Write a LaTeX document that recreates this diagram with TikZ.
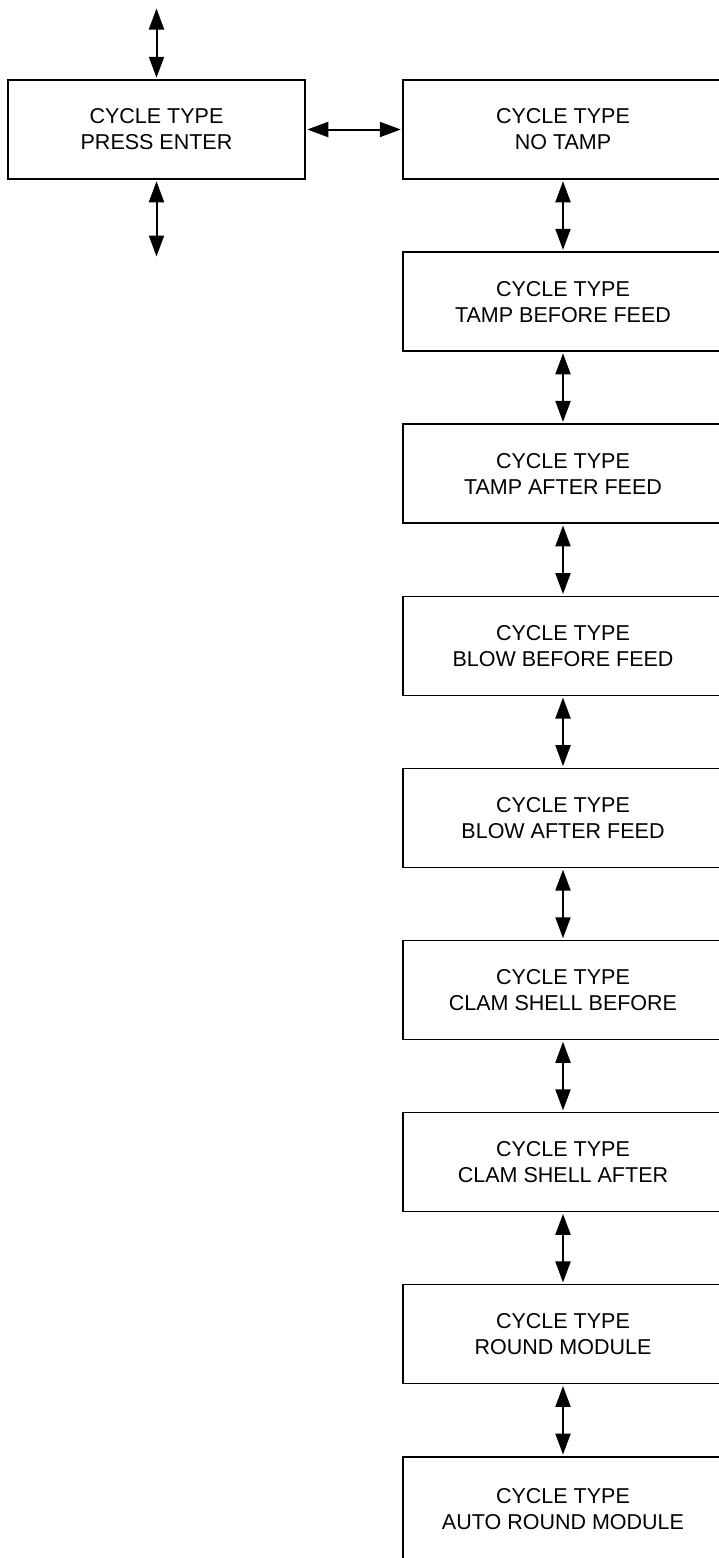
\documentclass[tikz,border=0pt]{standalone}
\usepackage{fontspec}
\setmainfont{Liberation Sans}
\usetikzlibrary{arrows.meta}

\tikzset{
	menu/.style={draw, line width=1.5pt, minimum width=297pt, minimum height=99pt, inner sep=0pt, align=center, font=\fontsize{21.5}{26}\selectfont},
	wide/.style={minimum width=320pt},
	link/.style={line width=2pt, shorten <=1.5pt, shorten >=1.5pt, {Triangle[length=21pt,width=15pt]}-{Triangle[length=21pt,width=15pt]}}
}

\begin{document}
\begin{tikzpicture}[x=1pt, y=-1pt]
	\useasboundingbox (0, 0) rectangle (719, 1558);
	\node [menu] (E) at (156.5, 129.5) {CYCLE TYPE\\PRESS ENTER};
	\coordinate (U) at (156.5, 7);
	\coordinate (D) at (156.5, 258);
	\node [menu, wide] (T0) at (563, 129.5) {CYCLE TYPE\\NO TAMP};
	\path (T0) +(0, 172.1) node [menu, wide] (T1) {CYCLE TYPE\\TAMP BEFORE FEED};
	\path (T1) +(0, 172.1) node [menu, wide] (T2) {CYCLE TYPE\\TAMP AFTER FEED};
	\path (T2) +(0, 172.1) node [menu, wide] (B1) {CYCLE TYPE\\BLOW BEFORE FEED};
	\path (B1) +(0, 172.1) node [menu, wide] (B2) {CYCLE TYPE\\BLOW AFTER FEED};
	\path (B2) +(0, 172.1) node [menu, wide] (C1) {CYCLE TYPE\\CLAM SHELL BEFORE};
	\path (C1) +(0, 172.1) node [menu, wide] (C2) {CYCLE TYPE\\CLAM SHELL AFTER};
	\path (C2) +(0, 172.1) node [menu, wide] (R1) {CYCLE TYPE\\ROUND MODULE};
	\path (R1) +(0, 174.6) node [menu, wide, minimum height=104pt] (R2) {CYCLE TYPE\\AUTO ROUND MODULE};
	\draw [link] (U) -- (E);
	\draw [link] (E) -- (D);
	\draw [link] (E) -- (T0);
	\draw [link] (T0) -- (T1);
	\draw [link] (T1) -- (T2);
	\draw [link] (T2) -- (B1);
	\draw [link] (B1) -- (B2);
	\draw [link] (B2) -- (C1);
	\draw [link] (C1) -- (C2);
	\draw [link] (C2) -- (R1);
	\draw [link] (R1) -- (R2);
\end{tikzpicture}
\end{document}
